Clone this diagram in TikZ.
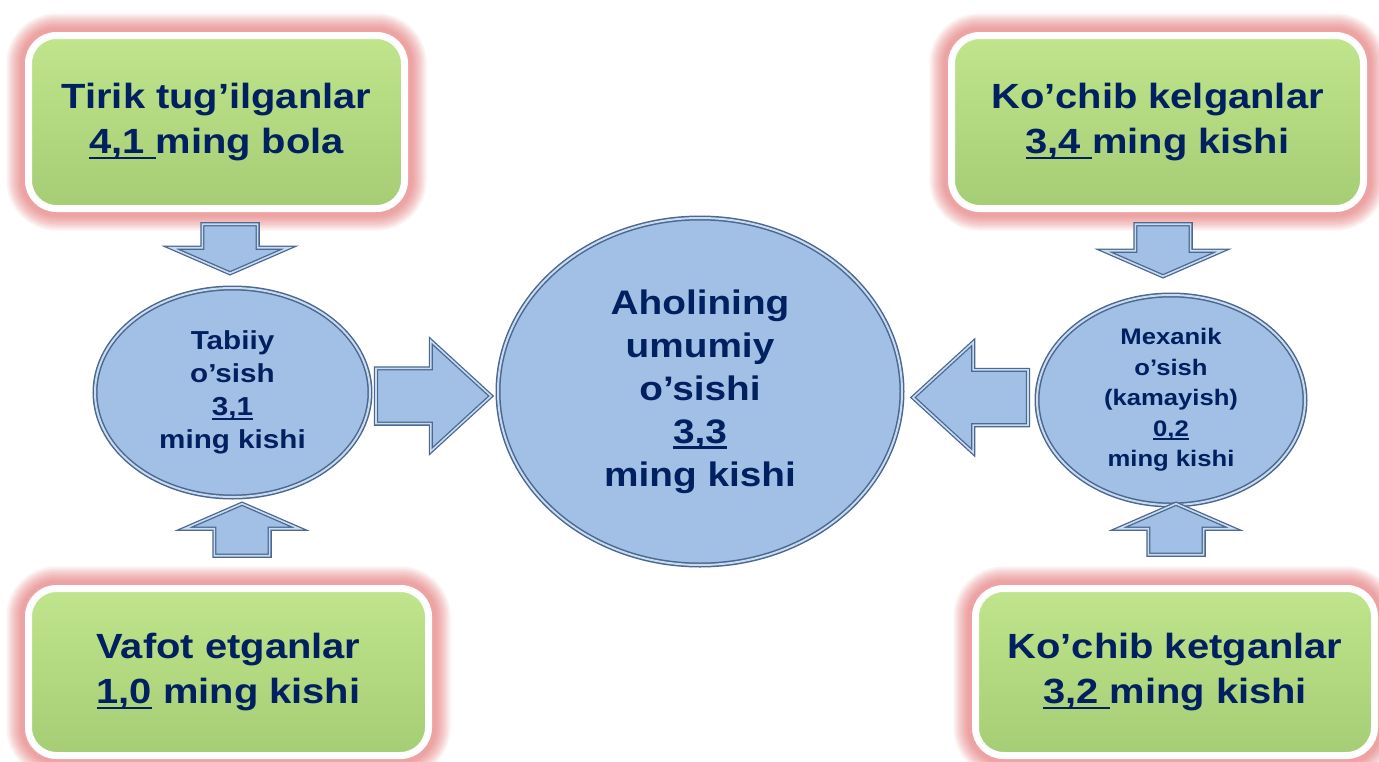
\documentclass[tikz,border=0pt]{standalone}
\usepackage{fontspec}
\setmainfont{Liberation Sans}[FakeStretch=1.14]
\usepackage{tikz}
\usetikzlibrary{shapes.geometric,shapes.arrows}
\definecolor{navy}{HTML}{002060}
\definecolor{glowred}{HTML}{E87474}
\definecolor{greentop}{HTML}{C0E58C}
\definecolor{greenbot}{HTML}{A5CD75}
\definecolor{ovalfill}{HTML}{A2C0E5}
\definecolor{ovaledge}{HTML}{4A6891}
\definecolor{ovallight}{HTML}{CBDBEE}
\newcommand\numul[1]{\leavevmode\setbox0=\hbox{#1}\rlap{\rule[-0.17em]{\wd0}{0.08em}}\box0{}}
\tikzset{
  glow/.style={preaction={draw=glowred,line width=44pt,draw opacity=.1},
    preaction={draw=glowred,line width=40pt,draw opacity=.11},
    preaction={draw=glowred,line width=36pt,draw opacity=.12},
    preaction={draw=glowred,line width=32pt,draw opacity=.12},
    preaction={draw=glowred,line width=28pt,draw opacity=.13},
    preaction={draw=glowred,line width=24pt,draw opacity=.13},
    preaction={draw=glowred,line width=20pt,draw opacity=.13},
    preaction={draw=glowred,line width=16pt,draw opacity=.13}},
  greenbox/.style={glow,rectangle,rounded corners=28pt,draw=white,line width=7pt,
    top color=greentop,bottom color=greenbot,text=navy,align=center,inner sep=0pt,
    font=\fontsize{35}{45}\selectfont\bfseries},
  oval/.style={ellipse,draw=ovaledge,line width=1.5pt,double=ovallight,
    double distance=2pt,fill=ovalfill,text=navy,align=center,inner sep=0pt},
  blockarrow/.style={single arrow,draw=ovaledge,line width=1.3pt,double=ovallight,
    double distance=1.6pt,fill=ovalfill,inner xsep=0pt,inner ysep=27pt,anchor=tip},
  downarrow/.style={blockarrow,rotate=-90,single arrow head extend=31pt,
    single arrow tip angle=133},
  uparrow/.style={blockarrow,rotate=90,single arrow head extend=30pt,
    single arrow tip angle=133},
  sidearrow/.style={blockarrow,single arrow head extend=27.5pt,
    single arrow tip angle=85,minimum height=115pt}
}
\begin{document}
\begin{tikzpicture}[x=1pt,y=-1pt]
    \fill[white] (0,0) rectangle (1379,761);
    \useasboundingbox (0,0) rectangle (1379,761);
    %boxes
    \node[greenbox,minimum width=376pt,minimum height=173pt] (born) at (216.5,122)
        {Tirik tug’ilganlar\\\numul{4,1 }ming bola};
    \node[greenbox,minimum width=412pt,minimum height=173pt] (came) at (1157.5,122)
        {Ko’chib kelganlar\\\numul{3,4 }ming kishi};
    \node[greenbox,minimum width=400pt,minimum height=167pt] (died) at (228.5,672)
        {Vafot etganlar\\\numul{1,0} ming kishi};
    \node[greenbox,minimum width=399pt,minimum height=167pt] (left) at (1175,672)
        {Ko’chib ketganlar\\\numul{3,2 }ming kishi};
    %ovals
    \node[oval,minimum width=275pt,minimum height=209pt,
        font=\fontsize{26}{33}\selectfont\bfseries] (natural) at (232.5,392.5)
        {Tabiiy\\o’sish\\\numul{3,1}\\ming kishi};
    \node[oval,minimum width=404pt,minimum height=347pt,
        font=\fontsize{34}{43}\selectfont\bfseries] (total) at (700,391.5)
        {Aholining\\umumiy\\o’sishi\\\numul{3,3}\\ming kishi};
    \node[oval,minimum width=268pt,minimum height=210pt,
        font=\fontsize{22.5}{30.5}\selectfont\bfseries] (mech) at (1171,400)
        {Mexanik\\o’sish\\(kamayish)\\\numul{0,2}\\ming kishi};
    %arrows
    \node[downarrow,minimum height=49pt] (bornarr) at (230,274) {};
    \node[downarrow,minimum height=52pt] (camearr) at (1163,277) {};
    \node[uparrow,minimum height=52pt] (diedarr) at (242,503) {};
    \node[uparrow,minimum height=51pt] (leftarr) at (1176,503) {};
    \node[sidearrow] (natarr) at (492,396) {};
    \node[sidearrow,rotate=180] (mecharr) at (912,397.5) {};
\end{tikzpicture}
\end{document}
